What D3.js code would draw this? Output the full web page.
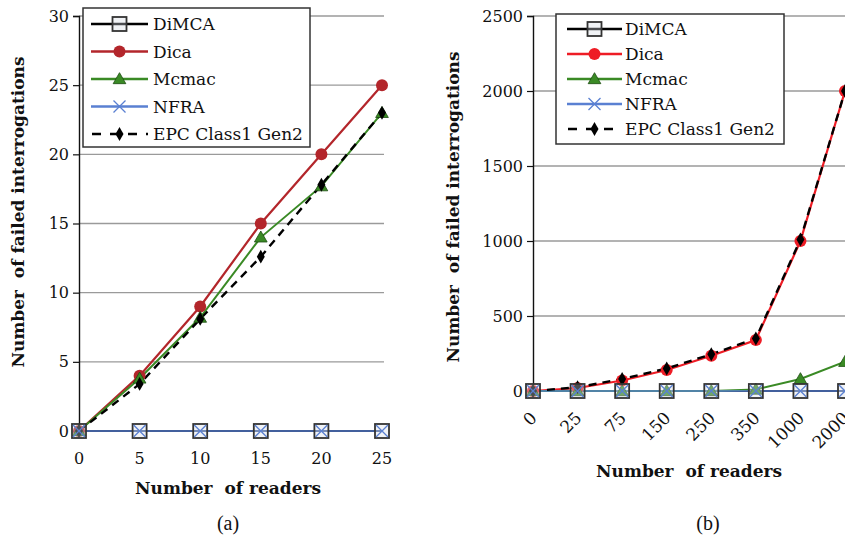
<!DOCTYPE html>
<html>
<head>
<meta charset="utf-8">
<script src="https://cdn.jsdelivr.net/npm/d3@7/dist/d3.min.js"></script>
<style>
  body { margin: 0; background: #fff; }
  svg { display: block; }
  svg text { font-family: "DejaVu Serif", "Liberation Serif", serif; }
</style>
</head>
<body>
<div id="chart"></div>
<script>
// panel (a)
const readersA = [0, 5, 10, 15, 20, 25];
const dimcaA = [0, 0, 0, 0, 0, 0];
const dicaA = [0, 4, 9, 15, 20, 25];
const mcmacA = [0, 3.8, 8.2, 14, 17.7, 23];
const nfraA = [0, 0, 0, 0, 0, 0];
const epcA = [0, 3.4, 8.1, 12.6, 17.8, 23];
const yTicksA = [0, 5, 10, 15, 20, 25, 30];

// panel (b)
const readersB = ["0", "25", "75", "150", "250", "350", "1000", "2000"];
const dimcaB = [0, 0, 0, 0, 0, 0, 0, 0];
const dicaB = [0, 20, 70, 140, 235, 340, 1000, 2000];
const mcmacB = [0, 0, 0, 0, 0, 10, 80, 195];
const nfraB = [0, 0, 0, 0, 0, 0, 0, 0];
const epcB = [0, 25, 80, 150, 245, 350, 1010, 2000];
const yTicksB = [0, 500, 1000, 1500, 2000, 2500];

const seriesNames = ["DiMCA", "Dica", "Mcmac", "NFRA", "EPC Class1 Gen2"];

const W = 845, H = 539;
const svg = d3.select("#chart").append("svg").attr("width", W).attr("height", H);

function drawMarker(g, type, x, y, color) {
  if (type === "square") {
    g.append("rect").attr("x", x - 7).attr("y", y - 7).attr("width", 14).attr("height", 14)
      .attr("fill", "rgba(215,222,230,0.35)").attr("stroke", "#333").attr("stroke-width", 1.8);
  } else if (type === "circle") {
    g.append("circle").attr("cx", x).attr("cy", y).attr("r", 6).attr("fill", color);
  } else if (type === "triangle") {
    g.append("path").attr("d", d3.symbol(d3.symbolTriangle, 70)()).attr("transform", `translate(${x},${y + 1})`)
      .attr("fill", color).attr("stroke", "#1d4d12").attr("stroke-width", 0.8);
  } else if (type === "cross") {
    g.append("path").attr("d", `M${x - 6},${y - 6}L${x + 6},${y + 6}M${x - 6},${y + 6}L${x + 6},${y - 6}`)
      .attr("stroke", color).attr("stroke-width", 1.3).attr("fill", "none");
  } else if (type === "diamond") {
    g.append("path").attr("d", d3.symbol(d3.symbolDiamond, 55)()).attr("transform", `translate(${x},${y})`)
      .attr("fill", "#000");
  }
}

function panel(opts) {
  const g = svg.append("g");
  const x = opts.x, y = opts.y;

  // gridlines
  g.selectAll("line.grid").data(opts.yTicks.filter(d => d > 0)).join("line")
    .attr("x1", x.range()[0]).attr("x2", opts.gridRight)
    .attr("y1", d => y(d)).attr("y2", d => y(d))
    .attr("stroke", "#9a9a9a").attr("stroke-width", 1.3);

  // y axis
  const ya = g.append("g").attr("transform", `translate(${x.range()[0]},0)`)
    .call(d3.axisLeft(y).tickValues(opts.yTicks).tickFormat(d3.format("d")).tickSize(6).tickPadding(4));
  ya.attr("font-family", null);
  ya.select(".domain").attr("stroke", "#111").attr("stroke-width", 1.4);
  ya.selectAll(".tick line").attr("stroke", "#111").attr("stroke-width", 1.2);
  ya.selectAll(".tick text").attr("font-size", 16).attr("fill", "#111");

  // x tick labels
  const xl = g.append("g");
  opts.cats.forEach(c => {
    const t = xl.append("text").text(c).attr("fill", "#111");
    if (opts.rotate) {
      t.attr("text-anchor", "end").attr("font-size", 17)
        .attr("transform", `translate(${x(c) + 5},${y(0) + 28}) rotate(-45)`);
    } else {
      t.attr("text-anchor", "middle").attr("font-size", 16).attr("x", x(c)).attr("y", y(0) + 33);
    }
  });

  const line = d3.line().x((d, i) => x(opts.cats[i])).y(d => y(d));
  const styles = [
    { vals: opts.dimca, color: "#000", marker: "square", dash: null, w: 2 },
    { vals: opts.dica, color: opts.dicaColor, marker: "circle", dash: null, w: 2.2 },
    { vals: opts.mcmac, color: "#3a8a25", marker: "triangle", dash: null, w: 2 },
    { vals: opts.nfra, color: "#5a80d2", marker: "cross", dash: null, w: 1.6 },
    { vals: opts.epc, color: "#000", marker: "diamond", dash: "8,6", w: 2.4 }
  ];
  styles.forEach(s => {
    g.append("path").datum(s.vals).attr("d", line).attr("fill", "none")
      .attr("stroke", s.color).attr("stroke-width", s.w).attr("stroke-dasharray", s.dash);
  });
  const order = [1, 2, 4, 0, 3];
  order.forEach(k => {
    const s = styles[k];
    s.vals.forEach((v, i) => drawMarker(g, s.marker, x(opts.cats[i]), y(v), s.color));
  });

  // legend
  const L = opts.legend;
  const lg = g.append("g");
  lg.append("rect").attr("x", L.x).attr("y", L.y).attr("width", L.w).attr("height", L.h)
    .attr("fill", "#fff").attr("stroke", "#333").attr("stroke-width", 1.5);
  seriesNames.forEach((name, i) => {
    const s = styles[i];
    const cy = L.rowY + i * L.step;
    lg.append("line").attr("x1", L.lx1).attr("x2", L.lx2).attr("y1", cy).attr("y2", cy)
      .attr("stroke", s.color).attr("stroke-width", s.dash ? 2.6 : 2.4)
      .attr("stroke-dasharray", s.dash ? "9,9" : null)
      .attr("stroke-dashoffset", s.dash ? -1 : null);
    drawMarker(lg, s.marker, (L.lx1 + L.lx2) / 2, cy, s.color);
    lg.append("text").text(name).attr("x", L.tx).attr("y", cy + 6)
      .attr("font-size", 17).attr("fill", "#111");
  });

  // axis titles
  g.append("text").text("Number  of failed interrogations")
    .attr("transform", `translate(${opts.yTitle[0]},${opts.yTitle[1]}) rotate(-90)`)
    .attr("text-anchor", "middle").attr("font-weight", "bold").attr("font-size", 17).attr("fill", "#111")
    .style("white-space", "pre");
  g.append("text").text("Number  of readers").attr("x", opts.xTitle[0]).attr("y", opts.xTitle[1])
    .attr("text-anchor", "middle").attr("font-weight", "bold").attr("font-size", 17).attr("fill", "#111")
    .style("white-space", "pre");
  g.append("text").text(opts.label).attr("x", opts.labelPos[0]).attr("y", opts.labelPos[1])
    .attr("text-anchor", "middle").attr("font-size", 20).attr("fill", "#111")
    .style("font-family", "Liberation Serif");
}

panel({
  cats: readersA,
  x: d3.scalePoint().domain(readersA).range([79, 382]),
  y: d3.scaleLinear().domain([0, 30]).range([431, 16]),
  yTicks: yTicksA,
  gridRight: 384,
  dimca: dimcaA, dica: dicaA, mcmac: mcmacA, nfra: nfraA, epc: epcA,
  dicaColor: "#b3262b",
  rotate: false,
  legend: { x: 83, y: 8, w: 227, h: 139, rowY: 24, step: 27.5, lx1: 91, lx2: 148, tx: 153 },
  yTitle: [24, 212],
  xTitle: [228, 494],
  label: "(a)",
  labelPos: [228, 530]
});

panel({
  cats: readersB,
  x: d3.scalePoint().domain(readersB).range([533, 845]),
  y: d3.scaleLinear().domain([0, 2500]).range([391, 16]),
  yTicks: yTicksB,
  gridRight: 845,
  dimca: dimcaB, dica: dicaB, mcmac: mcmacB, nfra: nfraB, epc: epcB,
  dicaColor: "#ee1c25",
  rotate: true,
  legend: { x: 556, y: 14, w: 228, h: 130, rowY: 29, step: 25, lx1: 567, lx2: 622, tx: 625 },
  yTitle: [459, 207],
  xTitle: [689, 477],
  label: "(b)",
  labelPos: [708, 530]
});
</script>
</body>
</html>
